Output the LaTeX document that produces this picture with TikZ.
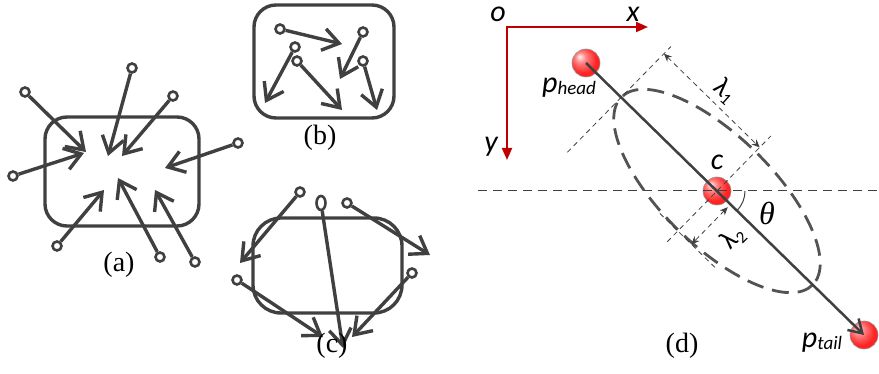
\documentclass[tikz,border=0pt]{standalone}
\usepackage{fontspec}
\setmainfont{Liberation Serif}
\newfontfamily\lblfont{Carlito}
\usetikzlibrary{arrows.meta,shapes.geometric}

\definecolor{ink}{HTML}{404040}
\definecolor{axisred}{HTML}{C00000}
\pgfdeclareradialshading{redshade}{\pgfpoint{-12bp}{12bp}}{color(0bp)=(red!5); color(10bp)=(red!50); color(24bp)=(red!85); color(50bp)=(red)}

\tikzset{
	panel/.style={draw=ink, line width=3.4pt, rounded corners=22pt},
	vec/.style={ink, line width=3.4pt, -{Straight Barb[length=16pt,width=22pt]}},
	endring/.style={circle, draw=ink, line width=2.6pt, inner sep=0pt, minimum size=9pt, fill=white},
	lbl/.style={font=\fontsize{28}{32}\selectfont},
	sym/.style={font=\lblfont\itshape\fontsize{30}{34}\selectfont, inner sep=0pt},
	frameaxis/.style={axisred, line width=2pt, line join=miter, {Triangle[length=12pt,width=10pt]}-{Triangle[length=12pt,width=10pt]}},
	redbead/.style={circle, minimum size=28pt, inner sep=0pt, shading=redshade, draw=gray!80, line width=0.6pt},
	oval/.style={draw=ink!90, line width=2.8pt, dash pattern=on 17pt off 9pt},
	guide/.style={ink, line width=0.8pt, dash pattern=on 5pt off 4pt},
	dimline/.style={guide, {Stealth[length=8pt,width=7pt]}-{Stealth[length=8pt,width=7pt]}},
}

\begin{document}
\begin{tikzpicture}[x=1pt, y=-1pt]
	\useasboundingbox (0,0) rectangle (879,374);
	
	% (a) all vectors point inwards
	\draw[panel] (45,117) rectangle (199,226);
	\node[endring] (a1) at (25,92) {};   \coordinate (a1e) at (86,152);
	\node[endring] (a2) at (13,176) {};  \coordinate (a2e) at (84,153);
	\node[endring] (a3) at (132,68) {};  \coordinate (a3e) at (108,156);
	\node[endring] (a4) at (173,96) {};  \coordinate (a4e) at (122,156);
	\node[endring] (a5) at (238,143) {}; \coordinate (a5e) at (165,168);
	\node[endring] (a6) at (57,246) {};  \coordinate (a6e) at (104,190);
	\node[endring] (a7) at (160,257) {}; \coordinate (a7e) at (118,178);
	\node[endring] (a8) at (195,262) {}; \coordinate (a8e) at (155,190);
	\draw[vec] (a1) -- (a1e);
	\draw[vec] (a2) -- (a2e);
	\draw[vec] (a3) -- (a3e);
	\draw[vec] (a4) -- (a4e);
	\draw[vec] (a5) -- (a5e);
	\draw[vec] (a6) -- (a6e);
	\draw[vec] (a7) -- (a7e);
	\draw[vec] (a8) -- (a8e);
	\node[lbl] (la) at (119,265) {(a)};
	
	% (b) vectors stay inside
	\draw[panel] (254,5) rectangle (394,118);
	\node[endring] (b1) at (280,29) {};  \coordinate (b1e) at (342,44);
	\node[endring] (b2) at (363,32) {};  \coordinate (b2e) at (340,79);
	\node[endring] (b3) at (295,47) {};  \coordinate (b3e) at (265,103);
	\node[endring] (b4) at (297,61) {};  \coordinate (b4e) at (342,110);
	\node[endring] (b5) at (363,61) {};  \coordinate (b5e) at (377,110);
	\draw[vec] (b1) -- (b1e);
	\draw[vec] (b2) -- (b2e);
	\draw[vec] (b3) -- (b3e);
	\draw[vec] (b4) -- (b4e);
	\draw[vec] (b5) -- (b5e);
	\node[lbl] (lb) at (320,138) {(b)};
	
	% (c) vectors cross the border
	\draw[panel, rounded corners=28pt] (253,218) rectangle (402,313);
	\node[endring] (c1) at (300,192) {};  \coordinate (c1e) at (240,263);
	\node[endring, ellipse, minimum width=9pt, minimum height=14pt] (c2) at (321,203) {};
	\coordinate (c2e) at (343,348);
	\node[endring] (c3) at (347,203) {};  \coordinate (c3e) at (430,255);
	\node[endring] (c4) at (237,280) {};  \coordinate (c4e) at (323,337);
	\node[endring] (c5) at (412,273) {};  \coordinate (c5e) at (352,337);
	\draw[vec] (c1) -- (c1e);
	\draw[vec] (c2) -- (c2e);
	\draw[vec] (c3) -- (c3e);
	\draw[vec] (c4) -- (c4e);
	\draw[vec] (c5) -- (c5e);
	\node[lbl] (lc) at (332,346) {(c)};
	
	% (d) image frame
	\coordinate (O) at (507,27);
	\coordinate (X) at (648,27);
	\coordinate (Y) at (507,160);
	\draw[frameaxis] (X) -- (O) -- (Y);
	\node[sym] (lo) at (498,14) {o};
	\node[sym] (lx) at (633,14) {x};
	\node[sym] (ly) at (491,147) {y};
	
	% Head, centre and tail
	\node[redbead] (hd) at (586,63) {};
	\node[redbead] (cen) at (717,191) {};
	\node[redbead] (tl) at (864,335) {};
	
	% Horizontal reference through the centre
	\coordinate (hl) at (478,191);
	\coordinate (hr) at (879,191);
	\draw[ink, line width=1pt, dash pattern=on 9pt off 6pt] (hl) -- (hr);
	
	% Ellipse and its axes, in the frame of the segment
	\begin{scope}[shift={(cen.center)}, rotate=-44.4]
		\draw[oval] (0,0) ellipse [x radius=134, y radius=55];
		\coordinate (h1) at (-134,77);  \coordinate (h2) at (-134,-71);
		\coordinate (m1) at (0,71);     \coordinate (m2) at (0,-77);
		\coordinate (l1a) at (-134,-61); \coordinate (l1b) at (0,-61);
		\coordinate (l2a) at (19,4);    \coordinate (l2b) at (19,56);
		\coordinate (e2a) at (-25,56);  \coordinate (e2b) at (54,56);
	\end{scope}
	\draw[guide] (h1) -- (h2);
	\draw[guide] (m1) -- (m2);
	\draw[guide] (e2a) -- (e2b);
	\draw[dimline] (l1a) -- (l1b);
	\draw[dimline] (l2a) -- (l2b);
	
	% Main segment
	\draw[ink, line width=2.5pt, -{Straight Barb[length=13pt,width=16pt]}] (hd.center) -- (tl.center);
	
	% Angle
	\draw[ink, line width=1pt] ([xshift=28pt]cen.center) arc[start angle=0, end angle=44.4, radius=28];
	
	% Labels
	\node[sym] (lh) at (569,88) {p\raisebox{-2pt}{\fontsize{19}{22}\selectfont head}};
	\node[sym] (lt) at (822,343) {p\raisebox{-2pt}{\fontsize{19}{22}\selectfont tail}};
	\node[sym] (lcen) at (717,162) {c};
	\node[font=\itshape\fontsize{32}{34}\selectfont, inner sep=0pt] (lth) at (767,213) {θ};
	\node[font=\lblfont\fontsize{27}{30}\selectfont, inner sep=0pt, rotate=-42] (ll1) at (725,91) {λ\raisebox{-4pt}{\fontsize{17}{17}\selectfont 1}};
	\node[font=\lblfont\fontsize{27}{30}\selectfont, inner sep=0pt, rotate=45] (ll2) at (733,238) {λ\raisebox{-4pt}{\fontsize{17}{17}\selectfont 2}};
	\node[lbl] (ld) at (682,346) {(d)};
	
\end{tikzpicture}
\end{document}
